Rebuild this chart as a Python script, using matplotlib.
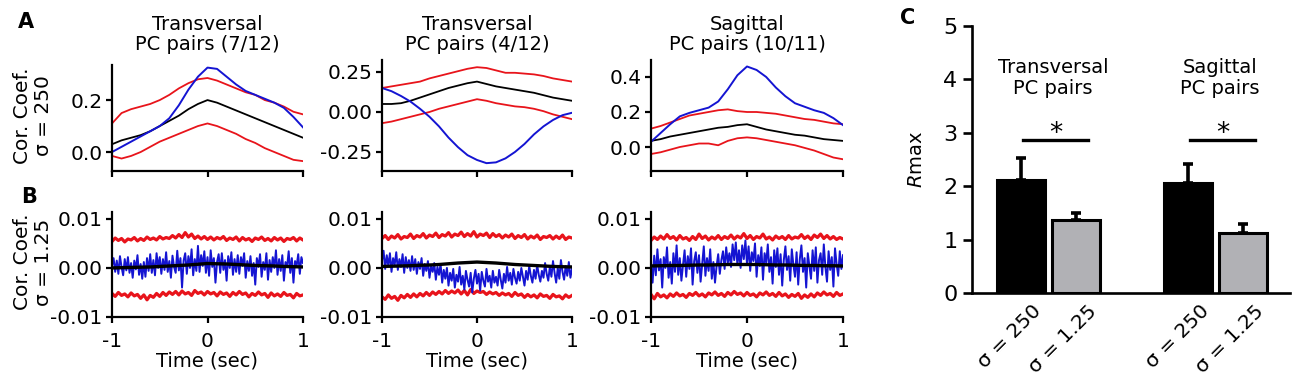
import numpy as np
import matplotlib.pyplot as plt
from matplotlib.transforms import ScaledTranslation

plt.rcParams['font.family'] = ['DejaVu Sans']
plt.rcParams['axes.unicode_minus'] = False

RED = '#e8141b'
BLUE = '#1414d2'
GRAY = '#b1b1b5'

# ---- row A: sigma = 250, smoothed cross-correlation (t = -1 .. 1, step 0.1)
a1_blue = [0.00, 0.02, 0.04, 0.06, 0.08, 0.10, 0.13, 0.18, 0.24, 0.29, 0.325,
           0.32, 0.29, 0.26, 0.235, 0.22, 0.205, 0.19, 0.17, 0.135, 0.095]
a1_black = [0.03, 0.045, 0.055, 0.065, 0.08, 0.10, 0.12, 0.14, 0.165, 0.185, 0.20,
            0.19, 0.175, 0.16, 0.145, 0.13, 0.115, 0.10, 0.085, 0.07, 0.055]
a1_red_hi = [0.11, 0.15, 0.165, 0.175, 0.185, 0.20, 0.22, 0.245, 0.265, 0.28, 0.285,
             0.275, 0.26, 0.245, 0.23, 0.22, 0.20, 0.19, 0.175, 0.155, 0.145]
a1_red_lo = [-0.015, -0.025, -0.015, 0.0, 0.02, 0.04, 0.055, 0.07, 0.085, 0.10, 0.11,
             0.10, 0.085, 0.07, 0.05, 0.035, 0.015, 0.0, -0.015, -0.03, -0.035]

a2_blue = [0.15, 0.13, 0.10, 0.065, 0.02, -0.03, -0.09, -0.16, -0.22, -0.27, -0.30,
           -0.32, -0.315, -0.29, -0.25, -0.20, -0.14, -0.09, -0.05, -0.02, -0.005]
a2_black = [0.05, 0.05, 0.055, 0.07, 0.09, 0.11, 0.13, 0.15, 0.165, 0.18, 0.19,
            0.175, 0.16, 0.15, 0.14, 0.13, 0.12, 0.105, 0.09, 0.08, 0.07]
a2_red_hi = [0.15, 0.16, 0.17, 0.18, 0.19, 0.21, 0.225, 0.24, 0.255, 0.27, 0.28,
             0.275, 0.26, 0.245, 0.245, 0.24, 0.235, 0.225, 0.21, 0.20, 0.19]
a2_red_lo = [-0.07, -0.06, -0.045, -0.03, -0.015, 0.0, 0.02, 0.035, 0.05, 0.065, 0.08,
             0.07, 0.055, 0.045, 0.035, 0.03, 0.02, 0.005, -0.015, -0.03, -0.045]

a3_blue = [0.03, 0.08, 0.13, 0.175, 0.195, 0.21, 0.225, 0.26, 0.33, 0.41, 0.46,
           0.44, 0.40, 0.34, 0.29, 0.25, 0.23, 0.21, 0.195, 0.165, 0.125]
a3_black = [0.035, 0.045, 0.06, 0.07, 0.08, 0.09, 0.10, 0.11, 0.115, 0.125, 0.13,
            0.115, 0.10, 0.09, 0.08, 0.07, 0.065, 0.055, 0.045, 0.04, 0.035]
a3_red_hi = [0.105, 0.12, 0.14, 0.16, 0.18, 0.19, 0.20, 0.21, 0.215, 0.205, 0.20,
             0.20, 0.195, 0.19, 0.18, 0.17, 0.16, 0.155, 0.145, 0.135, 0.13]
a3_red_lo = [-0.04, -0.03, -0.015, 0.0, 0.01, 0.02, 0.02, 0.01, 0.035, 0.05, 0.055,
             0.05, 0.04, 0.03, 0.02, 0.01, -0.005, -0.02, -0.04, -0.06, -0.07]

# ---- row B: sigma = 1.25 (values in units of 1e-3)
b1_red_hi = [5.4, 6.1, 5.6, 6.0, 5.3, 5.9, 5.7, 6.2, 5.5, 6.0, 5.6, 6.3, 5.8, 6.1, 5.7, 6.4,
             5.9, 6.2, 6.0, 6.6, 6.1, 6.8, 6.2, 7.2, 6.3, 6.9, 6.0, 6.5, 5.9, 6.4, 5.8, 6.3,
             5.7, 6.2, 5.9, 6.4, 5.6, 6.1, 5.8, 6.3, 5.5, 6.2, 5.7, 6.0, 5.4, 6.1, 5.8, 6.3,
             5.6, 6.0, 5.5, 6.2, 5.7, 6.1, 5.4, 6.0, 5.8, 6.2, 5.5, 6.1, 5.7]
b1_red_lo = [-5.2, -5.8, -5.0, -5.6, -5.3, -5.9, -5.1, -5.7, -5.4, -6.2, -5.5, -6.5, -5.6, -6.0,
             -5.2, -5.8, -5.0, -5.6, -4.9, -5.4, -4.8, -5.5, -4.7, -5.3, -5.0, -5.6, -4.6, -5.2,
             -4.9, -5.5, -4.8, -5.3, -5.0, -5.7, -4.9, -5.4, -5.1, -5.8, -5.0, -5.5, -4.8, -5.4,
             -5.1, -5.9, -5.2, -5.6, -4.9, -5.5, -5.2, -6.0, -5.1, -5.7, -5.3, -5.8, -5.0, -5.6,
             -5.4, -6.1, -5.2, -5.7, -5.5]
b1_blue = [0.5, 2.0, -0.8, 1.5, -1.2, 2.4, 0.2, -1.5, 1.8, -0.5, 2.2, -1.0, 1.0, -2.0, 1.5, -0.3, 2.6, -1.4, 0.8, -2.2,
           1.2, -1.8, 2.0, -0.6, 2.8, -1.0, 1.6, -1.5, 3.0, 0.0, 2.2, -1.2, 1.8, -0.4, 3.2, -0.8, 1.4, -2.0, 2.5, 0.2,
           -1.0, 3.5, -0.5, 2.0, -4.0, 1.5, 3.0, -1.2, 2.4, 0.0, 3.8, -1.5, 1.8, -0.6, 4.5, -0.8, 2.6, 0.4, 3.4, -1.0,
           2.2, -1.6, 3.6, 0.2, 2.0, -3.0, 1.2, 2.8, -1.0, 3.0, -0.4, 1.6, -2.6, 2.4, 0.0, 3.2, -1.4, 1.8, -0.8, 2.6,
           -1.2, 2.2, 0.4, 3.0, -2.0, 1.4, -0.6, 2.4, -1.6, 1.0, -3.4, 2.0, 0.2, 2.8, -1.8, 1.2, -0.4, 3.0, -2.4, 1.6,
           -0.8, 2.2, 0.0, 3.6, -1.4, 1.8, -0.6, 2.6, -2.6, 1.2, 0.2, 3.4, -1.0, 2.0, -3.0, 1.4, 0.4, 2.8, -1.2, 2.2, 1.0]
b1_black = [0.0, 0.05, 0.1, 0.15, 0.2, 0.3, 0.4, 0.5, 0.6, 0.75, 0.9,
            0.85, 0.8, 0.7, 0.6, 0.5, 0.45, 0.4, 0.3, 0.25, 0.2]

b2_red_hi = [6.0, 6.6, 5.8, 6.5, 6.1, 6.8, 5.9, 6.4, 6.2, 6.9, 6.0, 6.6, 6.3, 7.0, 6.1, 6.7,
             6.4, 7.1, 6.2, 6.8, 6.5, 7.2, 6.3, 6.9, 6.6, 7.3, 6.4, 7.0, 6.5, 7.4, 6.3, 6.9,
             6.6, 7.1, 6.2, 7.0, 6.4, 6.8, 6.1, 6.7, 6.3, 6.9, 6.0, 6.6, 6.2, 6.8, 5.9, 6.5,
             6.1, 6.7, 5.8, 6.4, 6.2, 6.6, 5.9, 6.5, 6.0, 6.7, 5.8, 6.3, 6.1]
b2_red_lo = [-5.9, -6.4, -5.5, -6.2, -5.8, -6.6, -5.6, -6.1, -5.4, -6.0, -5.3, -5.9, -5.2, -5.7,
             -5.0, -5.6, -4.9, -5.4, -4.8, -5.3, -4.6, -5.2, -4.7, -5.1, -4.5, -5.3, -4.6, -5.5,
             -4.4, -5.2, -4.7, -5.0, -4.8, -5.4, -4.9, -5.3, -5.0, -5.6, -5.1, -5.5, -5.2, -5.8,
             -5.0, -5.6, -5.3, -6.0, -5.4, -5.9, -5.5, -6.1, -5.3, -5.8, -5.6, -6.2, -5.4, -5.9,
             -5.7, -6.3, -5.5, -6.0, -5.6]
b2_blue = [1.5, 3.5, -0.2, 2.6, 0.4, 3.0, -0.8, 2.0, 0.6, 3.2, -0.4, 1.8, 0.2, 2.8, -1.0, 2.2, 0.0, 1.6, -0.6, 2.4,
           -0.4, 1.8, -1.2, 1.2, -0.2, 2.0, -1.6, 0.8, -0.6, 1.4, -2.0, 0.4, -0.8, 1.0, -2.4, 0.2, -1.4, 0.8, -3.0, -0.4,
           -2.2, 0.0, -3.6, -1.0, -2.6, -0.2, -4.0, -1.4, -2.8, 0.2, -3.4, -1.6, -4.4, -0.6, -2.4, -3.8, -1.0, -5.0, -2.2, -0.4,
           -3.2, -1.2, -4.6, -0.8, -2.6, -3.8, -0.2, -2.8, -1.6, -4.0, -0.6, -3.0, -1.8, -3.6, -0.4, -2.4, -4.2, -1.2, -3.0, 0.2,
           -2.6, -1.0, -3.4, -0.2, -2.0, -3.2, -0.8, -2.6, 0.0, -1.8, -3.6, -0.6, -2.4, 0.4, -1.6, -3.0, -0.4, -2.2, 0.6, -1.4,
           -2.8, -0.6, -2.0, 1.0, -1.2, -2.6, 0.2, -1.8, 1.4, -1.0, -3.0, 0.0, -2.2, 1.6, -0.8, -2.4, 0.4, -1.6, 1.2, -2.0, -0.2]
b2_black = [0.3, 0.35, 0.4, 0.45, 0.55, 0.6, 0.7, 0.85, 1.0, 1.1, 1.2,
            1.1, 1.0, 0.85, 0.7, 0.6, 0.5, 0.4, 0.3, 0.25, 0.2]

b3_red_hi = [5.6, 6.3, 5.8, 6.5, 5.9, 6.8, 6.0, 6.4, 5.7, 6.6, 5.9, 6.2, 5.6, 6.4, 5.8, 6.9,
             6.0, 6.5, 5.7, 6.3, 5.9, 6.6, 5.8, 6.4, 6.0, 6.7, 5.9, 6.5, 6.1, 7.0, 6.0, 6.6,
             5.8, 6.4, 6.1, 6.9, 5.9, 6.3, 5.7, 6.5, 6.0, 6.4, 5.8, 6.6, 5.9, 6.3, 6.1, 6.8,
             6.0, 6.5, 5.8, 6.7, 6.2, 6.9, 6.0, 6.6, 5.9, 6.4, 5.8, 6.2, 5.9]
b3_red_lo = [-5.4, -6.3, -5.2, -5.9, -5.5, -6.1, -5.3, -5.8, -5.1, -5.7, -5.4, -6.0, -5.2, -5.6,
             -5.0, -5.7, -5.3, -5.9, -5.1, -5.5, -4.9, -5.6, -5.2, -5.8, -5.0, -5.5, -4.8, -5.4,
             -5.1, -5.7, -5.0, -5.6, -5.3, -5.9, -5.1, -5.5, -4.9, -5.6, -5.2, -5.8, -5.0, -5.7,
             -5.3, -6.0, -5.4, -5.8, -5.2, -6.2, -5.5, -6.0, -5.3, -5.9, -5.1, -5.6, -4.9, -5.5,
             -5.2, -5.8, -5.0, -5.6, -5.3]
b3_blue = [1.0, -3.0, 2.5, -1.5, 3.8, -0.5, 1.8, -4.0, 2.2, 0.0, 4.2, -2.0, 1.2, -3.2, 3.0, -0.8, 4.6, -1.4, 2.0, -2.6,
           0.6, 3.6, -1.8, 2.4, -0.2, 4.0, -3.4, 1.4, 3.2, -1.0, 2.6, -2.8, 0.8, 4.4, -1.6, 2.0, -0.6, 3.8, -2.2, 1.2,
           -3.0, 0.4, 2.8, -1.2, 1.6, 3.4, -0.2, 4.2, 1.0, 3.0, 0.2, 4.8, 1.6, 5.2, 0.6, 3.6, 0.0, 4.6, 1.8, 5.6,
           0.8, 4.4, -0.6, 3.2, 1.4, 5.0, -1.8, 2.6, 0.4, 4.2, -2.4, 3.0, 1.0, 4.8, -0.8, 2.2, -3.2, 3.6, 0.2, 4.0,
           -1.4, 2.8, -3.6, 1.6, 4.4, -0.4, 2.4, -2.6, 3.8, 0.6, -1.8, 3.2, -3.4, 1.8, 4.6, -0.8, 2.0, -4.0, 3.0, 0.4,
           -2.2, 3.6, -0.6, 4.2, -3.0, 1.6, 3.0, -1.4, 4.8, 0.2, -2.8, 3.4, -0.4, 2.2, -3.8, 4.0, 0.8, -1.6, 3.4, -0.2, 2.6]
b3_black = [0.4, 0.45, 0.5, 0.5, 0.55, 0.6, 0.6, 0.65, 0.7, 0.7, 0.7,
            0.7, 0.65, 0.6, 0.6, 0.55, 0.5, 0.5, 0.45, 0.45, 0.4]

titles = ["Transversal\nPC pairs (7/12)", "Transversal\nPC pairs (4/12)",
          "Sagittal\nPC pairs (10/11)"]
a_yticks = [[0.0, 0.2], [-0.25, 0.0, 0.25], [0.0, 0.2, 0.4]]
a_yticklabels = [["0.0", "0.2"], ["-0.25", "0.00", "0.25"], ["0.0", "0.2", "0.4"]]
a_ylims = [(-0.073, 0.335), (-0.369, 0.325), (-0.137, 0.497)]
b_yticks = [-0.01, 0.0, 0.01]
b_yticklabels = ["-0.01", "0.00", "0.01"]

# ---- panel C: Rmax
groups = ["Transversal\nPC pairs", "Sagittal\nPC pairs"]
bar_labels = ["σ = 250", "σ = 1.25", "σ = 250", "σ = 1.25"]
rmax_mean = [2.12, 1.37, 2.06, 1.12]
rmax_err = [0.41, 0.13, 0.36, 0.17]

W, H = 1300, 382
fig = plt.figure(figsize=(W / 100, H / 100), dpi=100)


def px_axes(x0, y0, x1, y1):
    return fig.add_axes([x0 / W, 1 - y1 / H, (x1 - x0) / W, (y1 - y0) / H])


def style(ax, lw=1.6, size=14.5):
    for s in ('top', 'right'):
        ax.spines[s].set_visible(False)
    for s in ('left', 'bottom'):
        ax.spines[s].set_linewidth(lw)
    ax.tick_params(width=lw, length=4.5, labelsize=size, pad=2.5)


a_rows = [(a1_blue, a1_black, a1_red_hi, a1_red_lo),
          (a2_blue, a2_black, a2_red_hi, a2_red_lo),
          (a3_blue, a3_black, a3_red_hi, a3_red_lo)]
b_rows = [(b1_blue, b1_black, b1_red_hi, b1_red_lo),
          (b2_blue, b2_black, b2_red_hi, b2_red_lo),
          (b3_blue, b3_black, b3_red_hi, b3_red_lo)]
x_px = [(112, 303), (382, 572), (651, 843)]
a_top = [65, 60, 60]

for i in range(3):
    x0, x1 = x_px[i]
    # row A
    ax = px_axes(x0, a_top[i], x1, 171)
    blue, black, hi, lo = a_rows[i]
    t = np.linspace(-1, 1, len(blue))
    ax.plot(t, hi, color=RED, lw=1.3)
    ax.plot(t, lo, color=RED, lw=1.3)
    ax.plot(t, black, color='black', lw=1.3)
    ax.plot(t, blue, color=BLUE, lw=1.4)
    ax.set_xlim(-1, 1)
    ax.set_ylim(*a_ylims[i])
    ax.set_xticks([-1, 0, 1])
    ax.set_xticklabels([])
    ax.set_yticks(a_yticks[i])
    ax.set_yticklabels(a_yticklabels[i])
    style(ax)
    fig.text((x0 + x1) / 2 / W, 1 - 54 / H, titles[i], ha='center', va='bottom',
             fontsize=14, linespacing=1.1)

    # row B
    ax = px_axes(x0, 212, x1, 317)
    blue, black, hi, lo = b_rows[i]
    for arr, c, lw in ((hi, RED, 2.3), (lo, RED, 2.3), (blue, BLUE, 1.4), (black, 'black', 2.4)):
        tt = np.linspace(-1, 1, len(arr))
        ax.plot(tt, np.array(arr) * 1e-3, color=c, lw=lw)
    ax.set_xlim(-1, 1)
    ax.set_ylim(-0.01, 0.0114)
    ax.set_xticks([-1, 0, 1])
    ax.set_xticklabels(["-1", "0", "1"])
    ax.set_yticks(b_yticks)
    ax.set_yticklabels(b_yticklabels)
    style(ax)
    ax.tick_params(axis='x', pad=6)
    ax.set_xlabel("Time (sec)", fontsize=14, labelpad=1)

fig.text(33 / W, 1 - 116 / H, "Cor. Coef.\nσ = 250", rotation=90, ha='center',
         va='center', fontsize=14.5, linespacing=1.1)
fig.text(33 / W, 1 - 262 / H, "Cor. Coef.\nσ = 1.25", rotation=90, ha='center',
         va='center', fontsize=14.5, linespacing=1.1)

for lab, (px, py) in zip("ABC", [(18, 28), (21, 203), (900, 24)]):
    fig.text(px / W, 1 - py / H, lab, fontsize=15, fontweight='bold', va='baseline')

# panel C
axc = px_axes(972, 26, 1290, 293)
group_x = np.array([0.0, 3.04])
pos = np.sort(np.concatenate([group_x + k for k in (0, 1)]))
colors = ['black', GRAY, 'black', GRAY]
axc.bar(pos, rmax_mean, width=0.88, color=colors, edgecolor='black', linewidth=2.2, zorder=3)
axc.errorbar(pos, rmax_mean, yerr=[np.zeros(len(rmax_err)), rmax_err], fmt='none',
             ecolor='black', elinewidth=2.6, capsize=3.5, capthick=2.6, zorder=2)
axc.set_xlim(-0.89, 4.89)
axc.set_ylim(0, 5)
axc.set_yticks(range(6))
axc.set_xticks(pos)
axc.set_xticklabels(bar_labels, rotation=45, ha='right', rotation_mode='anchor')
style(axc, lw=1.9, size=16)
axc.tick_params(axis='x', length=0, labelsize=14.5, pad=6)
axc.tick_params(axis='y', length=6.5, pad=4)
shift = ScaledTranslation(0.11, 0, fig.dpi_scale_trans)
for lbl in axc.get_xticklabels():
    lbl.set_transform(lbl.get_transform() + shift)
axc.set_ylabel(r'$\mathit{R}$max', fontsize=14, labelpad=12)
for g, gx in zip(groups, group_x):
    axc.text(gx + 0.58, 4.03, g, ha='center', va='center', fontsize=14, linespacing=1.1)
    axc.plot([gx + 0.04, gx + 1.22], [2.87, 2.87], color='black', lw=2.4)
    axc.text(gx + 0.63, 2.98, '*', ha='center', va='center', fontsize=19)

fig.savefig('out.png', dpi=100)
